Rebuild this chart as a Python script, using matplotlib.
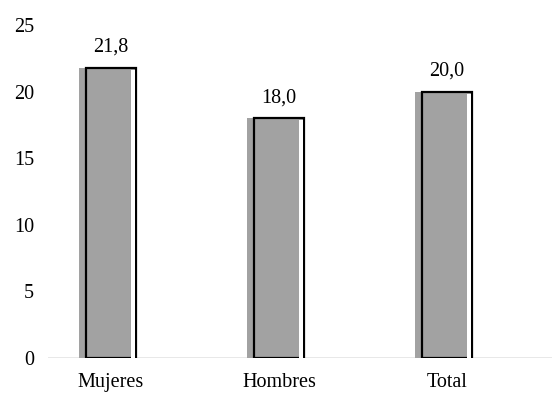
import matplotlib.pyplot as plt

categorias = ['Mujeres', 'Hombres', 'Total']
valores = [21.8, 18.0, 20.0]
etiquetas = ['21,8', '18,0', '20,0']
yticks = [0, 5, 10, 15, 20, 25]

plt.rcParams['font.family'] = 'Liberation Serif'

fig = plt.figure(figsize=(5.52, 3.94), dpi=100)
ax = fig.add_axes([48 / 552, 36 / 394, 1 - 48 / 552, 333 / 394])

x = list(range(len(categorias)))
ancho = 0.3
gris = '#a2a2a2'

# sombra desplazada a la izquierda
ax.bar([i - 0.042 for i in x], valores, width=ancho, color=gris, zorder=2)
# barra principal con borde negro
ax.bar(x, valores, width=ancho, color=gris, edgecolor='black', linewidth=1.6, zorder=3)
# brillo blanco en el borde derecho
ax.bar([i + ancho / 2 - 0.02 for i in x], [v - 0.15 for v in valores], width=0.022,
       color='white', zorder=4)

for i, v, t in zip(x, valores, etiquetas):
    ax.annotate(t, (i, v), xytext=(0, 8), textcoords='offset points',
                ha='center', va='bottom', fontsize=14.5)

ax.axhline(0, color='#e6e6e6', linewidth=2, zorder=1)

ax.set_ylim(0, 25)
ax.set_xlim(-0.375, 2.625)
ax.set_yticks(yticks)
ax.set_xticks(x)
ax.set_xticklabels(categorias)
ax.tick_params(axis='both', length=0, labelsize=14.5)
ax.tick_params(axis='y', pad=10)
ax.tick_params(axis='x', pad=11)
for s in ax.spines.values():
    s.set_visible(False)

fig.savefig('out.png', dpi=100)
